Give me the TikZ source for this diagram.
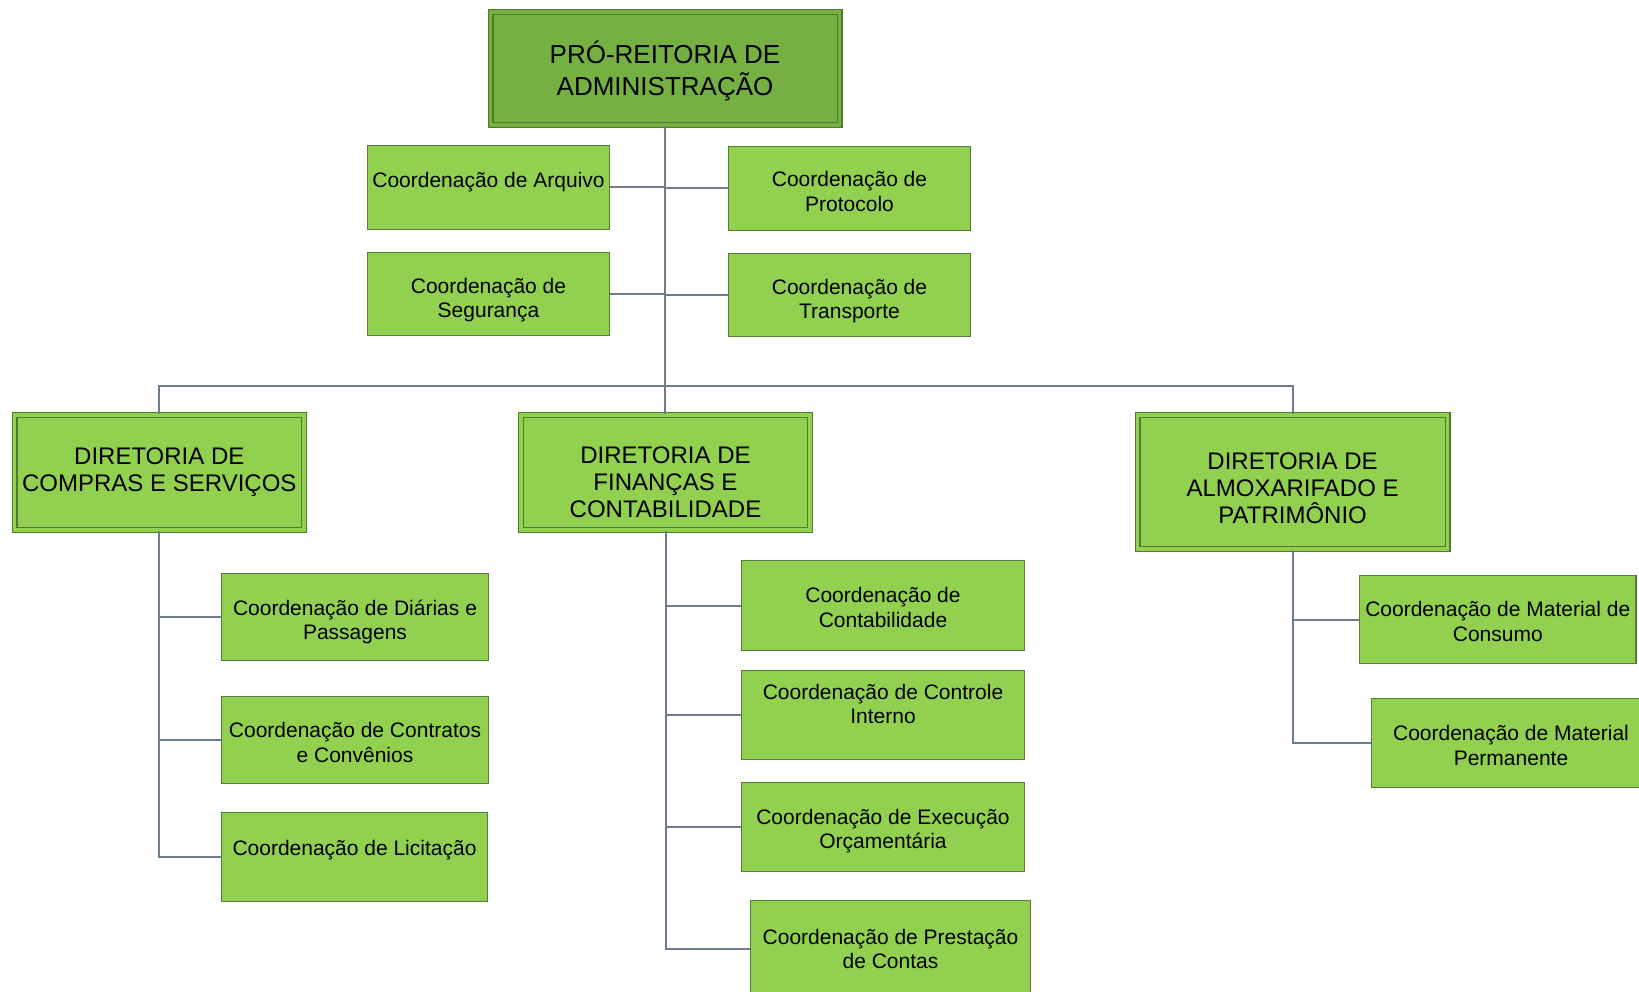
\documentclass[tikz,border=0pt]{standalone}
\usepackage{fontspec}
\setmainfont{Liberation Sans}
\usetikzlibrary{calc}
\definecolor{headgreen}{HTML}{76B043}
\definecolor{boxgreen}{HTML}{92D050}
\definecolor{edgegreen}{HTML}{4F7A30}
\definecolor{linkgray}{HTML}{6F7C8E}
\tikzset{
	coordbox/.style={draw=edgegreen!85!gray, line width=1.2pt, fill=boxgreen, inner sep=0pt},
	ctext/.style={align=center, inner sep=0pt, font=\fontsize{21}{24.5}\selectfont},
	dirbox/.style={draw=edgegreen, line width=1.2pt, double=boxgreen, double distance=3.6pt, fill=boxgreen, inner sep=0pt},
	dtext/.style={align=center, inner sep=0pt, font=\fontsize{24}{26.8}\selectfont},
	headbox/.style={dirbox, fill=headgreen, double=headgreen},
	htext/.style={align=center, inner sep=0pt, font=\fontsize{26}{32}\selectfont},
	link/.style={draw=linkgray, line width=2pt}
}
% box with its text raised (+) or lowered (-) from the middle
\def\cbox[#1](#2)(#3)(#4)#5{\node[coordbox, #1, label={[ctext, yshift=#4]center:#5}] (#3) at (#2) {};}
\def\dbox[#1](#2)(#3)(#4)#5{\node[dirbox, #1, label={[dtext, yshift=#4]center:#5}] (#3) at (#2) {};}

\begin{document}
\begin{tikzpicture}[x=1pt, y=-1pt]
			%%%%% START %%%%%
			\useasboundingbox (0,0) rectangle (1639,992);
			
			% pro-reitoria
			\node[headbox, minimum width=349pt, minimum height=113pt, label={[htext, yshift=-2.5pt]center:PRÓ-REITORIA DE\\ADMINISTRAÇÃO}] (pra) at (665,68.5) {};
			
			% coordenacoes ligadas direto
			\cbox[minimum width=242pt, minimum height=84pt](488.5,187.5)(arq)(5.5pt){Coordenação de Arquivo}
			\cbox[minimum width=242pt, minimum height=84pt](849.5,188.5)(prot)(-3pt){Coordenação de\\Protocolo}
			\cbox[minimum width=242pt, minimum height=83pt](488.5,294)(seg)(-6pt){Coordenação de\\Segurança}
			\cbox[minimum width=242pt, minimum height=83pt](849.5,295)(transp)(-6pt){Coordenação de\\Transporte}
			
			% diretorias
			\dbox[minimum width=289.5pt, minimum height=115pt](159.3,472.5)(dcs)(0pt){DIRETORIA DE\\COMPRAS E SERVIÇOS}
			\dbox[minimum width=289pt, minimum height=115pt](665.5,472.5)(dfc)(-10pt){DIRETORIA DE\\FINANÇAS E\\CONTABILIDADE}
			\dbox[minimum width=310pt, minimum height=134pt](1292.6,482)(dap)(-6.5pt){DIRETORIA DE\\ALMOXARIFADO E\\PATRIMÔNIO}
			
			% compras e servicos
			\cbox[minimum width=267pt, minimum height=87pt](355,617)(dia)(-5pt){Coordenação de Diárias e\\Passagens}
			\cbox[minimum width=267pt, minimum height=87pt](355,740)(contr)(-2.5pt){Coordenação de Contratos\\e Convênios}
			\cbox[minimum width=266pt, minimum height=89pt](354.5,857)(lic)(7pt){Coordenação de Licitação}
			
			% financas e contabilidade
			\cbox[minimum width=283pt, minimum height=90pt](883,605.5)(cont)(-2pt){Coordenação de\\Contabilidade}
			\cbox[minimum width=283pt, minimum height=89pt](883,715)(ctrl)(11pt){Coordenação de Controle\\Interno}
			\cbox[minimum width=283pt, minimum height=89pt](883,827)(exec)(-4pt){Coordenação de Execução\\Orçamentária}
			\cbox[minimum width=280pt, minimum height=97pt](890.5,949)(prest)(0pt){Coordenação de Prestação\\de Contas}
			
			% almoxarifado e patrimonio
			\cbox[minimum width=276.5pt, minimum height=88pt](1497.8,619.5)(cons)(-2pt){Coordenação de Material de\\Consumo}
			\cbox[minimum width=279pt, minimum height=89pt](1511,743)(perm)(-2.5pt){Coordenação de Material\\Permanente}
			
			% ligacoes
			\coordinate (bus) at (665,386);
			\draw[link] (pra.south) -- (pra.south |- dfc.north);
			\draw[link] (arq.east) -- (arq.east -| pra.south);
			\draw[link] (prot.west) -- (prot.west -| pra.south);
			\draw[link] (seg.east) -- (seg.east -| pra.south);
			\draw[link] (transp.west) -- (transp.west -| pra.south);
			\draw[link] (dcs.north) |- (bus) -| (dap.north);
			
			\draw[link] (dcs.south) |- (lic.west);
			\draw[link] (dcs.south |- dia.west) -- (dia.west);
			\draw[link] (dcs.south |- contr.west) -- (contr.west);
			
			\draw[link] (dfc.south) |- (prest.west);
			\draw[link] (dfc.south |- cont.west) -- (cont.west);
			\draw[link] (dfc.south |- ctrl.west) -- (ctrl.west);
			\draw[link] (dfc.south |- exec.west) -- (exec.west);
			
			\draw[link] (dap.south) |- (perm.west);
			\draw[link] (dap.south |- cons.west) -- (cons.west);
			
			%%%%% END %%%%%
\end{tikzpicture}
\end{document}
